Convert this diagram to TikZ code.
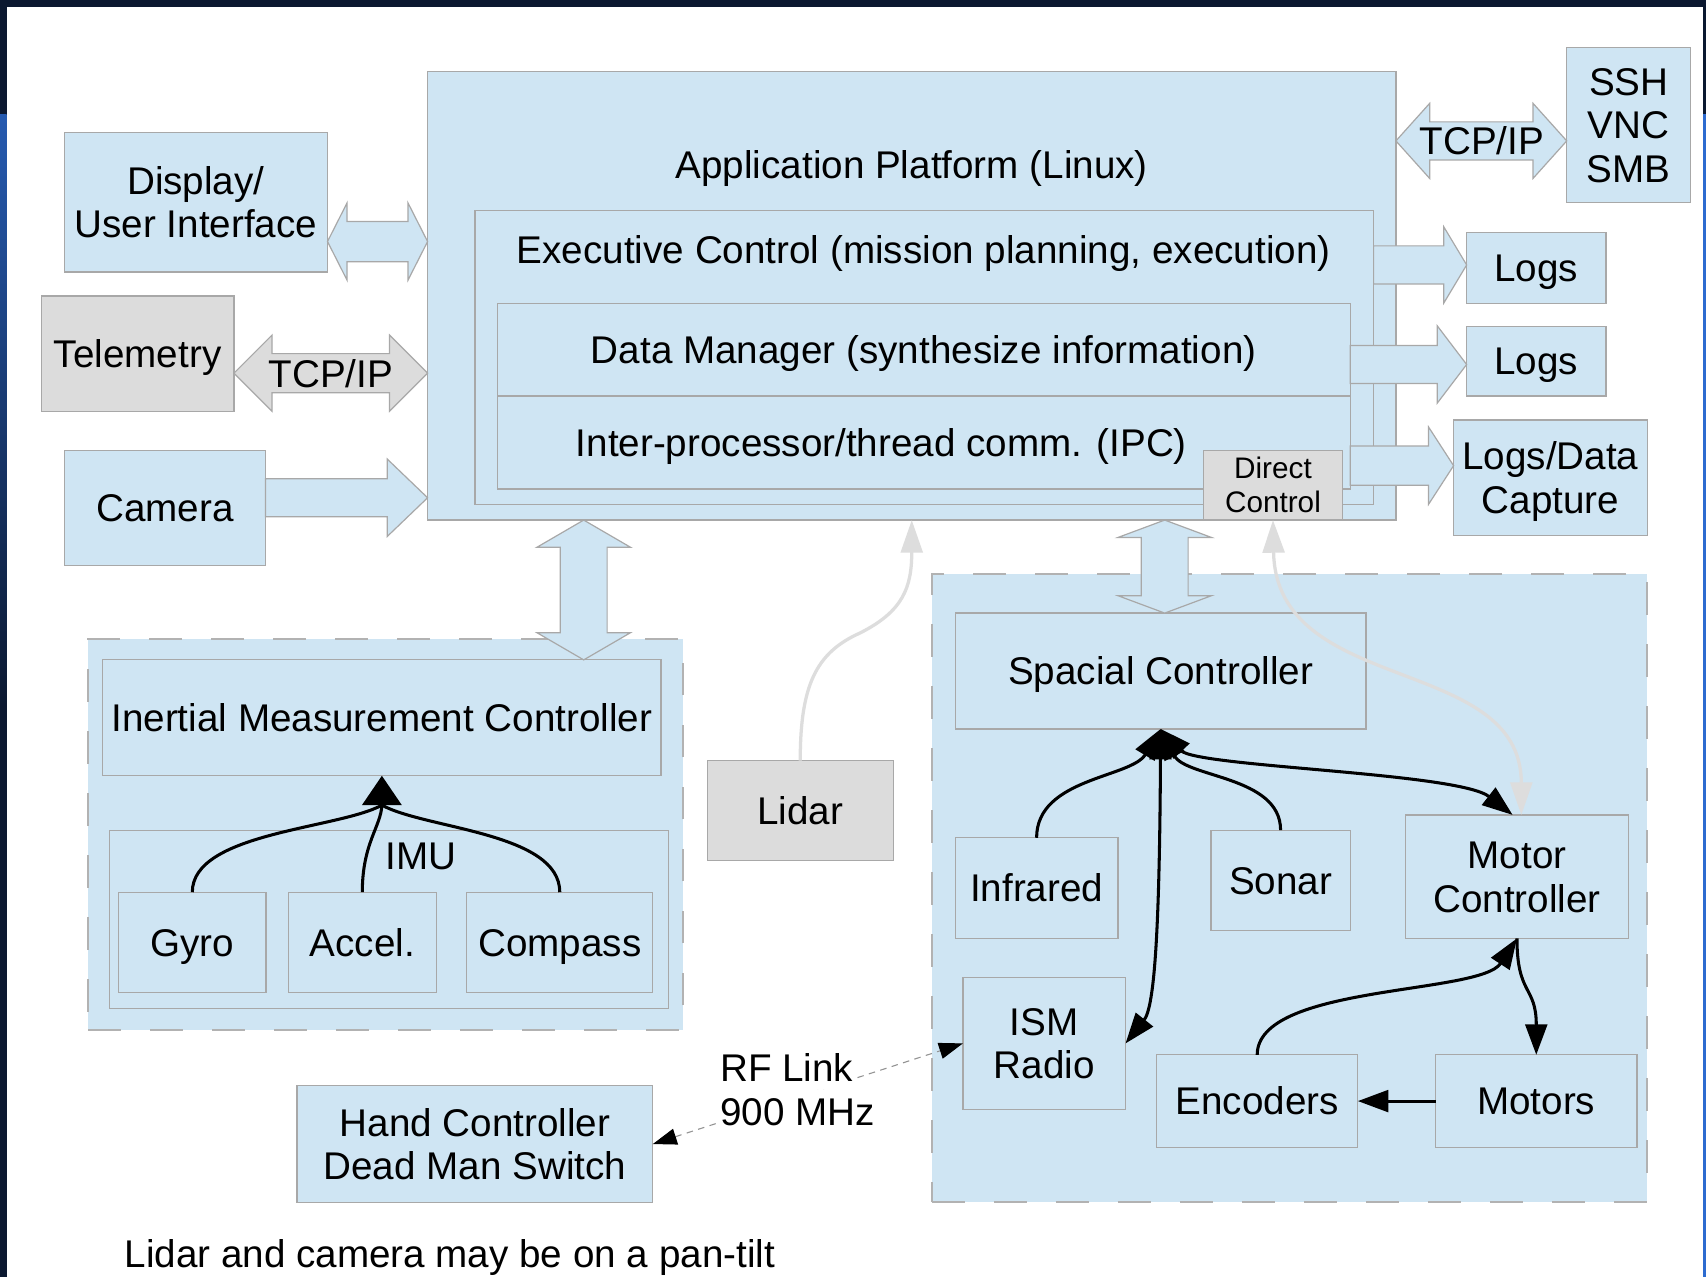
\documentclass[tikz,border=0pt]{standalone}
\usepackage{fontspec}
\setmainfont{Liberation Sans}
\usetikzlibrary{arrows.meta,calc}

\definecolor{paleblue}{HTML}{CFE5F3}
\definecolor{palegray}{HTML}{DCDCDC}
\definecolor{edgegray}{HTML}{A8A8A8}
\definecolor{dashgray}{HTML}{B2B2B2}
\definecolor{wiregray}{HTML}{DDDDDD}
\definecolor{navy}{HTML}{0B1830}
\definecolor{rimblue}{HTML}{2D6BD0}

\newcommand\lblfont{\fontsize{35.5pt}{40pt}\selectfont}
\newcommand\dcfont{\fontsize{27.3pt}{31pt}\selectfont}
% struts that put the middle of the capitals on the node centre
\newcommand\lstrut{\rule[-7pt]{0pt}{39.4pt}}
\newcommand\dstrut{\rule[-5.5pt]{0pt}{30.5pt}}

% box from its corners: [style]{name}{x1}{y1}{x2}{y2}{text}
\newcommand\bx[7][blk]{\node[#1, minimum width={#5-#3}, minimum height={#6-#4}] (#2) at ({(#3+#5)/2},{(#4+#6)/2}) {#7};}

% fat double arrow, horizontal: style, left tip, right tip, half shaft, half head, head length
\newcommand\fatH[6]{\draw[#1] let \p1=#2, \p2=#3 in
  (\x1,\y1) -- (\x1+#6pt,\y1+#5pt) -- (\x1+#6pt,\y1+#4pt) -- (\x2-#6pt,\y1+#4pt) -- (\x2-#6pt,\y1+#5pt)
  -- (\x2,\y1) -- (\x2-#6pt,\y1-#5pt) -- (\x2-#6pt,\y1-#4pt) -- (\x1+#6pt,\y1-#4pt) -- (\x1+#6pt,\y1-#5pt) -- cycle;}
% fat single arrow pointing right: style, tail, tip, half shaft, half head, head length
\newcommand\fatR[6]{\draw[#1] let \p1=#2, \p2=#3 in
  (\x1,\y1+#4pt) -- (\x2-#6pt,\y1+#4pt) -- (\x2-#6pt,\y1+#5pt) -- (\x2,\y1)
  -- (\x2-#6pt,\y1-#5pt) -- (\x2-#6pt,\y1-#4pt) -- (\x1,\y1-#4pt) -- cycle;}
% fat double arrow, vertical: style, top tip, bottom tip, half shaft, half head, head length
\newcommand\fatV[6]{\draw[#1] let \p1=#2, \p2=#3 in
  (\x1,\y1) -- (\x1+#5pt,\y1-#6pt) -- (\x1+#4pt,\y1-#6pt) -- (\x1+#4pt,\y2+#6pt) -- (\x1+#5pt,\y2+#6pt)
  -- (\x1,\y2) -- (\x1-#5pt,\y2+#6pt) -- (\x1-#4pt,\y2+#6pt) -- (\x1-#4pt,\y1-#6pt) -- (\x1-#5pt,\y1-#6pt) -- cycle;}

\begin{document}
\begin{tikzpicture}[x=1pt,y=-1pt,
  blk/.style={draw=edgegray, line width=1.1pt, fill=paleblue, inner sep=0pt, outer sep=0pt, align=center, font=\lblfont},
  grayblk/.style={blk, fill=palegray},
  grp/.style={draw=dashgray, line width=2pt, dash pattern=on 30pt off 27pt, fill=paleblue, inner sep=0pt, outer sep=0pt},
  txt/.style={inner sep=0pt, outer sep=0pt, align=center, font=\lblfont},
  fatblue/.style={draw=edgegray, line width=1.1pt, fill=paleblue, line join=miter},
  fatgray/.style={fatblue, fill=palegray},
  wire/.style={draw=black, line width=2.8pt, -{Triangle[length=28pt,width=20pt]}},
  plainwire/.style={draw=black, line width=2.8pt},
  bighead/.style={draw=black, line width=2.8pt, -{Triangle[length=27pt,width=36pt]}},
  wirebi/.style={draw=black, line width=2.8pt, {Triangle[length=28pt,width=20pt]}-{Triangle[length=28pt,width=20pt]}},
  ghost/.style={draw=wiregray, line width=3pt, -{Triangle[length=30pt,width=20pt]}},
  ghostbi/.style={draw=wiregray, line width=3pt, {Triangle[length=30pt,width=20pt]}-{Triangle[length=30pt,width=20pt]}},
  radio/.style={draw=gray!85, line width=1pt, dash pattern=on 6pt off 5pt,
    {Triangle[length=22pt,width=15pt,color=black]}-{Triangle[length=22pt,width=15pt,color=black]}}
]
\useasboundingbox (0,0) rectangle (1568,1174);
\fill[white] (0,0) rectangle (1568,1174);

% window frame
\fill[navy] (0,0) rectangle (1568,6.5);
\fill[navy] (0,6.5) rectangle (6,1174);
\shade[top color=rimblue!80!navy, bottom color=navy] (0,105) rectangle (6,650);
\fill[navy] (1565,0) rectangle (1568,105);
\fill[rimblue] (1565,105) rectangle (1568,1174);

% dashed sub-system groups
\bx[grp]{imug}{81}{587}{628}{947}{}
\bx[grp]{spg}{856.5}{527.5}{1514}{1104.5}{}

% application platform stack
\bx{app}{393}{66}{1283}{478}{}
\bx{exec}{436.5}{193.5}{1262.5}{463.5}{}
\bx{dm}{457}{279}{1241}{364}{\lstrut Data Manager (synthesize information)}
\bx{ipc}{457}{364}{1241}{449.5}{}
\node[txt] (apptxt) at (838,152) {\lstrut Application Platform (Linux)};
\node[txt] (exectxt) at (849,230) {\lstrut Executive Control (mission planning, execution)};
\node[txt] (ipctxt) at (810,407) {\lstrut Inter-processor/thread comm. (IPC)};

% peripherals around the platform
\bx{disp}{59}{122}{301}{250}{\lstrut Display/\\\lstrut User Interface}
\bx[grayblk]{tele}{38}{272}{215}{378}{\lstrut Telemetry}
\bx{cam}{59}{414}{244}{520}{\lstrut Camera}
\bx{ssh}{1440}{44}{1554}{186}{\lstrut SSH\\\lstrut VNC\\\lstrut SMB}
\bx{logsa}{1348}{214}{1476}{279}{\lstrut Logs}
\bx{logsb}{1348}{300}{1476}{364}{\lstrut Logs}
\bx{logsc}{1336}{386}{1514}{492}{\lstrut Logs/Data\\\lstrut Capture}

% inertial measurement group
\bx{imc}{94.5}{606.5}{607.5}{713}{\lstrut Inertial Measurement Controller}
\bx{imu}{101}{763}{614.5}{927}{}
\node[txt] (imutxt) at (387,786) {\lstrut IMU};
\bx{gyro}{109}{820}{244.5}{912.5}{\lstrut Gyro}
\bx{accel}{265}{820}{401}{912.5}{\lstrut Accel.}
\bx{comp}{429}{820}{600}{912.5}{\lstrut Compass}

\bx[grayblk]{lidar}{650}{699}{821}{791}{\lstrut Lidar}

% spatial control group
\bx{sc}{878}{563.5}{1255.5}{670}{\lstrut Spacial Controller}
\bx{ir}{878}{770}{1027.5}{862.5}{\lstrut Infrared}
\bx{sonar}{1113}{763}{1241}{855.5}{\lstrut Sonar}
\bx{mc}{1291.5}{749}{1497}{862.5}{\lstrut Motor\\\lstrut Controller}
\bx{ism}{885}{898.5}{1034.5}{1019.5}{\lstrut ISM\\\lstrut Radio}
\bx{enc}{1063}{969.5}{1248}{1054.5}{\lstrut Encoders}
\bx{motors}{1319.5}{969.5}{1504.5}{1054.5}{\lstrut Motors}

\bx{hand}{273}{998}{600}{1105}{\lstrut Hand Controller\\\lstrut Dead Man Switch}

% fat data-flow arrows
\fatH{fatblue}{(disp.east |- 0,222)}{(app.west |- 0,222)}{18.5}{35.5}{18}
\fatH{fatgray}{(tele.east |- 0,343)}{(app.west |- 0,343)}{18}{35}{35}
\fatR{fatblue}{(cam.east |- 0,457.5)}{(app.west |- 0,457.5)}{17.5}{35.5}{37}
\fatH{fatblue}{(app.east |- 0,129.5)}{(ssh.west |- 0,129.5)}{17.5}{34.5}{31}
\fatR{fatblue}{(exec.east |- 0,243.5)}{(logsa.west |- 0,243.5)}{17.5}{35}{21}
\fatR{fatblue}{(dm.east |- 0,335)}{(logsb.west |- 0,335)}{17.5}{35.5}{27}
\fatR{fatblue}{(ipc.east |- 0,428)}{(logsc.west |- 0,428)}{18}{35.5}{23}
\fatV{fatblue}{(app.south -| 536.5,0)}{(imc.north -| 536.5,0)}{21.5}{43}{25}
\fatV{fatblue}{(app.south -| 1070.5,0)}{(sc.north -| 1070.5,0)}{21.5}{43}{16}
\node[txt] (tcpa) at (304,343) {\lstrut TCP/IP};
\node[txt] (tcpb) at (1362,129.5) {\lstrut TCP/IP};

\bx[grayblk,font=\dcfont]{dc}{1106}{414}{1234}{478}{\dstrut Direct\\\dstrut Control}

% sensor links merging into one head under the IMU controller
\coordinate (imuhub) at ($(imc.south)+(0,27)$);
\draw[plainwire] (gyro.north) .. controls +(0,-55) and +(-40,22) .. (imuhub);
\draw[plainwire] (accel.north) .. controls +(0,-45) and +(-1,20) .. (imuhub);
\draw[plainwire] (comp.north) .. controls +(0,-55) and +(40,22) .. (imuhub);
\draw[bighead] (imuhub) -- (imc.south);

% spatial controller links
\draw[wire] (ir.north) .. controls +(0,-55) and +(-27,45) .. (sc.south);
\draw[wire] (sonar.north) .. controls +(0,-50) and +(23,45) .. (sc.south);
\draw[wirebi] (sc.south) .. controls +(-1,180) and +(27,-34) .. (ism.east);
\draw[wirebi] (sc.south) .. controls +(33,35) and +(-50,-39) .. ([xshift=-4pt]mc.north);
\draw[wire] (enc.north) .. controls +(0,-65) and +(-34,52) .. (mc.south);
\draw[wire] (mc.south) .. controls +(0,53) and +(0,-64) .. (motors.north);
\draw[wire] (motors.west) -- (enc.east);

% grey side channels
\coordinate (lidarbend) at (790,582);
\draw[ghost] (lidar.north) .. controls +(0,-69) and (750,600) .. (lidarbend)
  .. controls (830,562) and (838,540) .. (app.south);
\draw[ghostbi] (dc.south) .. controls +(3,162) and +(0,-148) .. ([xshift=4pt]mc.north);

% radio link
\draw[radio] (hand.east) -- (ism.west);
\node[txt, fill=white, anchor=north west] (rfa) at (662,961.6) {\lstrut RF Link};
\node[txt, fill=white, anchor=north west] (rfb) at (662,1001.6) {\lstrut 900 MHz};

\node[txt, anchor=base west] (note) at (114.5,1165) {Lidar and camera may be on a pan-tilt};
\end{tikzpicture}
\end{document}
